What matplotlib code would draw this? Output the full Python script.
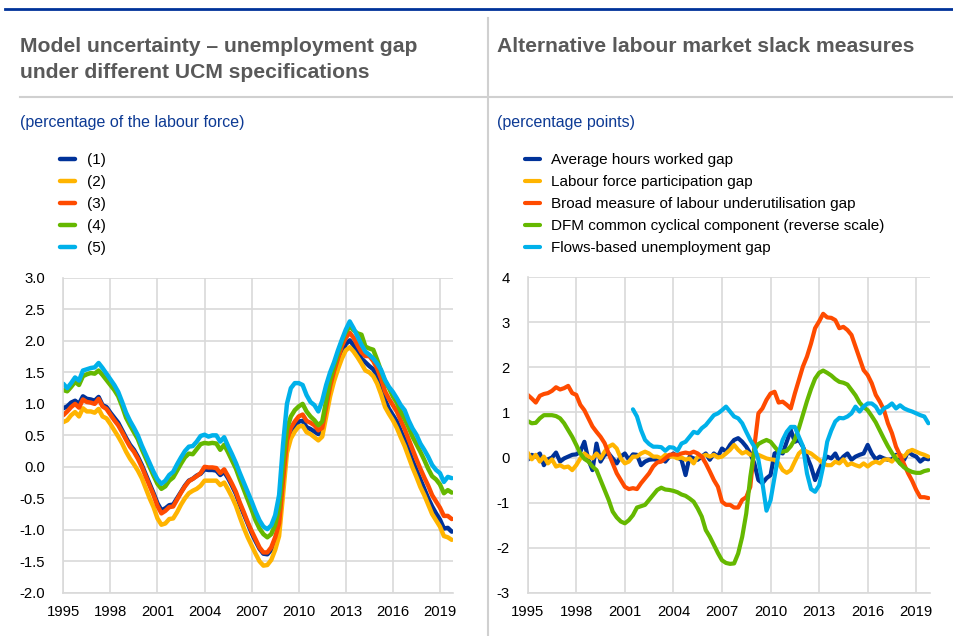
import numpy as np
import matplotlib
matplotlib.use("Agg")
import matplotlib.pyplot as plt
from matplotlib.lines import Line2D

plt.rcParams['font.family'] = ['Liberation Sans', 'DejaVu Sans']

# ---------------- data: left panel (quarterly, 1995Q1-2019Q4) ----------------
left_start = 1995.0
ucm_labels = ["(1)", "(2)", "(3)", "(4)", "(5)"]
ucm1 = [0.93, 0.96, 1.02, 1.05, 1.00, 1.12, 1.08, 1.07, 1.05, 1.11, 0.98, 0.95,
        0.86, 0.78, 0.70, 0.58, 0.46, 0.35, 0.27, 0.16, 0.03, -0.12, -0.27, -0.42,
        -0.58, -0.69, -0.66, -0.61, -0.60, -0.50, -0.40, -0.30, -0.22, -0.19, -0.14, -0.11,
        -0.04, -0.05, -0.05, -0.06, -0.13, -0.08, -0.18, -0.30, -0.43, -0.60, -0.75, -0.90,
        -1.05, -1.18, -1.30, -1.38, -1.39, -1.32, -1.16, -0.95, -0.30, 0.35, 0.56, 0.64,
        0.72, 0.73, 0.63, 0.60, 0.56, 0.52, 0.58, 0.90, 1.22, 1.45, 1.64, 1.82,
        1.95, 2.01, 1.93, 1.83, 1.72, 1.66, 1.60, 1.55, 1.45, 1.28, 1.06, 0.92,
        0.82, 0.72, 0.57, 0.43, 0.27, 0.10, -0.05, -0.20, -0.35, -0.50, -0.63, -0.74,
        -0.84, -0.98, -0.97, -1.03]
ucm2 = [0.71, 0.74, 0.82, 0.87, 0.80, 0.93, 0.88, 0.88, 0.86, 0.92, 0.80, 0.77,
        0.68, 0.58, 0.48, 0.37, 0.24, 0.13, 0.04, -0.06, -0.18, -0.34, -0.50, -0.64,
        -0.82, -0.92, -0.90, -0.83, -0.82, -0.72, -0.60, -0.50, -0.42, -0.38, -0.35, -0.30,
        -0.22, -0.22, -0.22, -0.22, -0.29, -0.25, -0.36, -0.48, -0.62, -0.80, -0.97, -1.12,
        -1.25, -1.38, -1.50, -1.57, -1.56, -1.48, -1.32, -1.10, -0.45, 0.22, 0.45, 0.56,
        0.64, 0.65, 0.55, 0.52, 0.47, 0.42, 0.48, 0.80, 1.12, 1.36, 1.55, 1.72,
        1.85, 1.90, 1.83, 1.74, 1.64, 1.53, 1.50, 1.44, 1.32, 1.15, 0.95, 0.84,
        0.74, 0.62, 0.47, 0.33, 0.16, -0.01, -0.16, -0.32, -0.45, -0.60, -0.75, -0.85,
        -0.95, -1.10, -1.12, -1.16]
ucm3 = [0.82, 0.88, 0.95, 1.00, 0.94, 1.07, 1.03, 1.02, 1.00, 1.08, 0.96, 0.92,
        0.83, 0.74, 0.66, 0.55, 0.43, 0.32, 0.24, 0.13, 0.00, -0.15, -0.30, -0.45,
        -0.62, -0.74, -0.70, -0.64, -0.63, -0.52, -0.41, -0.31, -0.23, -0.19, -0.15, -0.10,
        0.00, -0.01, -0.01, -0.02, -0.10, -0.04, -0.15, -0.27, -0.40, -0.57, -0.72, -0.88,
        -1.02, -1.15, -1.28, -1.36, -1.36, -1.28, -1.12, -0.90, -0.22, 0.42, 0.62, 0.72,
        0.80, 0.83, 0.73, 0.70, 0.66, 0.58, 0.62, 0.95, 1.28, 1.52, 1.72, 1.92,
        2.05, 2.13, 2.05, 1.93, 1.82, 1.76, 1.76, 1.68, 1.56, 1.40, 1.20, 1.08,
        0.98, 0.88, 0.74, 0.60, 0.44, 0.28, 0.12, -0.03, -0.17, -0.30, -0.45, -0.55,
        -0.65, -0.78, -0.78, -0.83]
ucm4 = [1.22, 1.20, 1.27, 1.35, 1.30, 1.44, 1.47, 1.49, 1.48, 1.53, 1.46, 1.38,
        1.30, 1.22, 1.12, 0.96, 0.78, 0.66, 0.55, 0.44, 0.28, 0.14, 0.00, -0.14,
        -0.27, -0.35, -0.31, -0.22, -0.17, -0.06, 0.05, 0.15, 0.21, 0.20, 0.28, 0.36,
        0.38, 0.37, 0.38, 0.37, 0.27, 0.35, 0.23, 0.10, -0.03, -0.20, -0.36, -0.52,
        -0.68, -0.85, -0.98, -1.07, -1.12, -1.07, -0.92, -0.65, 0.05, 0.60, 0.80, 0.90,
        0.96, 1.00, 0.88, 0.80, 0.74, 0.66, 0.72, 1.05, 1.38, 1.60, 1.80, 2.00,
        2.14, 2.23, 2.17, 2.12, 2.10, 1.91, 1.88, 1.86, 1.70, 1.52, 1.36, 1.25,
        1.12, 1.02, 0.88, 0.76, 0.63, 0.48, 0.36, 0.24, 0.11, -0.03, -0.15, -0.20,
        -0.28, -0.42, -0.37, -0.41]
ucm5 = [1.32, 1.25, 1.33, 1.42, 1.37, 1.53, 1.55, 1.57, 1.58, 1.65, 1.57, 1.48,
        1.39, 1.30, 1.19, 1.03, 0.86, 0.73, 0.62, 0.50, 0.34, 0.20, 0.06, -0.08,
        -0.20, -0.27, -0.22, -0.13, -0.08, 0.04, 0.15, 0.25, 0.32, 0.33, 0.40, 0.49,
        0.51, 0.48, 0.50, 0.50, 0.40, 0.47, 0.33, 0.20, 0.06, -0.10, -0.25, -0.40,
        -0.55, -0.71, -0.85, -0.95, -0.99, -0.93, -0.77, -0.45, 0.35, 1.00, 1.25, 1.33,
        1.33, 1.30, 1.14, 1.03, 0.98, 0.88, 1.05, 1.30, 1.50, 1.66, 1.85, 2.02,
        2.18, 2.31, 2.20, 2.07, 1.94, 1.83, 1.78, 1.72, 1.64, 1.54, 1.38, 1.27,
        1.19, 1.09, 0.98, 0.90, 0.74, 0.61, 0.51, 0.37, 0.27, 0.16, 0.03, -0.05,
        -0.10, -0.24, -0.16, -0.18]
ucm_series = [ucm1, ucm2, ucm3, ucm4, ucm5]

# ---------------- data: right panel (quarterly) ----------------
right_start = 1995.0
slack_labels = ["Average hours worked gap", "Labour force participation gap",
                "Broad measure of labour underutilisation gap",
                "DFM common cyclical component (reverse scale)",
                "Flows-based unemployment gap"]
hours_gap = [-0.05, 0.06, 0.02, 0.09, -0.17, -0.04, 0.00, 0.11, -0.09, -0.02, 0.02, 0.06,
             0.07, 0.13, 0.35, -0.05, -0.28, 0.31, -0.09, 0.06, 0.09, -0.02, -0.13, 0.02,
             0.09, -0.05, 0.07, 0.06, -0.17, -0.09, -0.05, -0.04, -0.05, -0.02, -0.09, 0.02,
             0.09, 0.00, -0.05, -0.39, 0.02, -0.02, -0.05, 0.02, 0.09, -0.05, 0.09, 0.02,
             0.20, 0.13, 0.28, 0.39, 0.43, 0.35, 0.24, 0.09, -0.13, -0.50, -0.57, -0.46,
             -0.39, 0.09, 0.13, 0.09, 0.35, 0.61, 0.35, 0.39, 0.24, 0.02, -0.20, -0.50,
             -0.28, -0.09, 0.02, -0.02, 0.09, -0.09, 0.02, 0.09, -0.05, 0.02, 0.06, 0.09,
             0.28, 0.09, -0.04, 0.02, -0.02, -0.05, -0.04, 0.06, -0.13, -0.05, 0.13, 0.06,
             0.02, -0.09, -0.02, -0.04]
participation_gap = [0.11, -0.04, 0.06, -0.09, 0.02, -0.13, -0.04, -0.20, -0.17, -0.22, -0.20, -0.28,
                     -0.17, -0.02, 0.09, 0.02, -0.02, 0.09, -0.02, 0.13, 0.24, 0.29, 0.20, -0.02,
                     -0.13, -0.09, 0.02, 0.02, 0.09, 0.13, 0.09, 0.02, 0.02, -0.02, 0.06, 0.02,
                     0.02, -0.02, 0.00, -0.05, -0.02, -0.13, 0.02, 0.02, 0.06, 0.02, 0.06, 0.00,
                     0.02, 0.09, 0.17, 0.28, 0.17, 0.09, 0.13, 0.06, 0.06, 0.06, 0.02, -0.02,
                     -0.04, -0.05, -0.13, -0.28, -0.34, -0.28, -0.09, 0.09, 0.17, 0.13, 0.09, 0.02,
                     -0.05, -0.13, -0.17, -0.17, -0.09, -0.13, -0.04, -0.17, -0.13, -0.17, -0.20, -0.13,
                     -0.20, -0.13, -0.09, -0.13, -0.05, -0.04, -0.09, 0.02, 0.06, 0.02, 0.13, 0.17,
                     0.13, 0.09, 0.06, 0.02]
broad_underutil = [1.39, 1.31, 1.22, 1.37, 1.41, 1.43, 1.48, 1.56, 1.51, 1.54, 1.59, 1.43,
                   1.39, 1.17, 1.05, 0.87, 0.69, 0.57, 0.46, 0.32, 0.09, -0.13, -0.35, -0.50,
                   -0.65, -0.70, -0.68, -0.70, -0.57, -0.46, -0.35, -0.20, -0.11, -0.09, -0.02, 0.06,
                   0.07, 0.06, 0.09, 0.11, 0.09, 0.13, 0.09, 0.02, -0.13, -0.31, -0.50, -0.65,
                   -0.98, -1.05, -1.05, -1.11, -1.11, -0.94, -0.88, -0.65, 0.24, 0.98, 1.09, 1.28,
                   1.42, 1.46, 1.22, 1.24, 1.17, 1.09, 1.42, 1.72, 2.02, 2.24, 2.53, 2.87,
                   3.02, 3.19, 3.11, 3.10, 3.05, 2.87, 2.90, 2.83, 2.72, 2.46, 2.20, 1.94,
                   1.83, 1.65, 1.39, 1.24, 1.06, 0.76, 0.54, 0.24, 0.05, -0.15, -0.35, -0.52,
                   -0.72, -0.88, -0.88, -0.90]
dfm_component = [0.81, 0.76, 0.77, 0.87, 0.94, 0.94, 0.94, 0.92, 0.87, 0.76, 0.61, 0.46,
                 0.28, 0.09, -0.03, -0.09, -0.20, -0.28, -0.50, -0.72, -0.94, -1.20, -1.33, -1.42,
                 -1.46, -1.39, -1.28, -1.11, -1.08, -1.05, -0.94, -0.83, -0.72, -0.67, -0.71, -0.72,
                 -0.74, -0.77, -0.82, -0.85, -0.91, -0.98, -1.13, -1.31, -1.61, -1.76, -1.94, -2.12,
                 -2.28, -2.34, -2.36, -2.35, -2.13, -1.76, -1.24, -0.43, 0.17, 0.30, 0.35, 0.39,
                 0.35, 0.24, 0.13, 0.13, 0.15, 0.25, 0.40, 0.65, 0.95, 1.25, 1.52, 1.75,
                 1.88, 1.93, 1.88, 1.82, 1.74, 1.68, 1.66, 1.62, 1.50, 1.38, 1.22, 1.12,
                 1.05, 0.92, 0.78, 0.60, 0.42, 0.25, 0.10, -0.03, -0.13, -0.22, -0.28, -0.32,
                 -0.34, -0.34, -0.30, -0.28]
flows_start = 2001.5
flows_gap = [1.07, 0.91, 0.61, 0.39, 0.30, 0.24, 0.24, 0.23, 0.15, 0.23, 0.22, 0.15,
             0.31, 0.35, 0.46, 0.57, 0.54, 0.65, 0.72, 0.83, 0.94, 0.98, 1.05, 1.13,
             1.02, 0.91, 0.87, 0.76, 0.57, 0.39, 0.24, -0.05, -0.57, -1.18, -0.95, -0.43,
             0.09, 0.39, 0.57, 0.68, 0.68, 0.46, 0.25, -0.35, -0.70, -0.76, -0.62, -0.20,
             0.35, 0.60, 0.80, 0.88, 0.87, 0.91, 0.98, 1.13, 1.02, 1.13, 1.20, 1.20,
             1.13, 0.98, 1.09, 1.13, 1.20, 1.09, 1.16, 1.09, 1.05, 1.02, 0.98, 0.94,
             0.91, 0.76]
slack_series = [hours_gap, participation_gap, broad_underutil, dfm_component, flows_gap]
slack_starts = [right_start, right_start, right_start, right_start, flows_start]

year_ticks = [1995, 1998, 2001, 2004, 2007, 2010, 2013, 2016, 2019]
left_yticks = [-2.0, -1.5, -1.0, -0.5, 0.0, 0.5, 1.0, 1.5, 2.0, 2.5, 3.0]
right_yticks = [-3, -2, -1, 0, 1, 2, 3, 4]

colors = ["#003299", "#FFB400", "#FF4B00", "#65B800", "#00B1EA"]
grid_col = "#d9d9d9"
title_col = "#595959"
sub_col = "#0d3a94"

W, H = 954, 636
fig = plt.figure(figsize=(W / 100, H / 100), dpi=100)

def fx(px):
    return px / W

def fy(py):
    return 1 - py / H

# header decorations
fig.add_artist(Line2D([fx(5), fx(954)], [fy(9), fy(9)], color="#003299", lw=2.0))
fig.add_artist(Line2D([fx(20), fx(954)], [fy(97), fy(97)], color="#d0d0d0", lw=1.5))
fig.add_artist(Line2D([fx(488), fx(488)], [fy(18), fy(636)], color="#d0d0d0", lw=1.5))

fig.text(fx(20), fy(47), "Model uncertainty – unemployment gap", fontsize=15.2, fontweight="bold",
         color=title_col, va="center", ha="left")
fig.text(fx(20), fy(72), "under different UCM specifications", fontsize=15.2, fontweight="bold",
         color=title_col, va="center", ha="left")
fig.text(fx(497), fy(47), "Alternative labour market slack measures", fontsize=15.2, fontweight="bold",
         color=title_col, va="center", ha="left")
fig.text(fx(20), fy(123), "(percentage of the labour force)", fontsize=11.5, color=sub_col,
         va="center", ha="left")
fig.text(fx(497), fy(123), "(percentage points)", fontsize=11.5, color=sub_col,
         va="center", ha="left")


def style_axis(ax, yticks, xmin, xmax, ylim, fmt):
    ax.set_xlim(xmin, xmax)
    ax.set_ylim(*ylim)
    ax.set_xticks(year_ticks)
    ax.set_xticklabels([str(y) for y in year_ticks])
    ax.set_yticks(yticks)
    ax.set_yticklabels([fmt(v) for v in yticks])
    ax.grid(True, color=grid_col, lw=1.2)
    ax.set_axisbelow(True)
    for s in ["top", "right"]:
        ax.spines[s].set_visible(False)
    for s in ["left", "bottom"]:
        ax.spines[s].set_color(grid_col)
        ax.spines[s].set_linewidth(1.2)
    ax.tick_params(length=0, labelsize=10.7, colors="#000000", pad=9)
    ax.tick_params(axis="y", pad=13)


# left panel
axL = fig.add_axes([fx(63.3), fy(592.7), fx(453.3 - 63.3), (592.7 - 278) / H])
xq = left_start + 0.25 * np.arange(len(ucm1))
handlesL = []
for ser, c, lab in zip(ucm_series, colors, ucm_labels):
    h, = axL.plot(xq, ser, color=c, lw=3.2, solid_joinstyle="round", solid_capstyle="round", label=lab)
    handlesL.append(h)
style_axis(axL, left_yticks, 1995, 2019.85, (-2.0, 3.0), lambda v: f"{v:.1f}")
axL.legend(handles=handlesL, loc="upper left", bbox_to_anchor=(fx(60), fy(153)),
           bbox_transform=fig.transFigure, frameon=False, fontsize=11, handlelength=1.0,
           handletextpad=0.75, labelspacing=0.53, borderpad=0, borderaxespad=0)

# right panel
axR = fig.add_axes([fx(527.7), fy(592.7), fx(930 - 527.7), (592.7 - 277.3) / H])
handlesR = []
for ser, st, c, lab in zip(slack_series, slack_starts, colors, slack_labels):
    xs = st + 0.25 * np.arange(len(ser))
    h, = axR.plot(xs, ser, color=c, lw=3.0, solid_joinstyle="round", solid_capstyle="round", label=lab)
    handlesR.append(h)
style_axis(axR, right_yticks, 1995, 2019.85, (-3, 4), lambda v: f"{v:d}")
axR.legend(handles=handlesR, loc="upper left", bbox_to_anchor=(fx(524.5), fy(153)),
           bbox_transform=fig.transFigure, frameon=False, fontsize=11, handlelength=1.0,
           handletextpad=0.75, labelspacing=0.53, borderpad=0, borderaxespad=0)

fig.savefig("out.png", dpi=100)
